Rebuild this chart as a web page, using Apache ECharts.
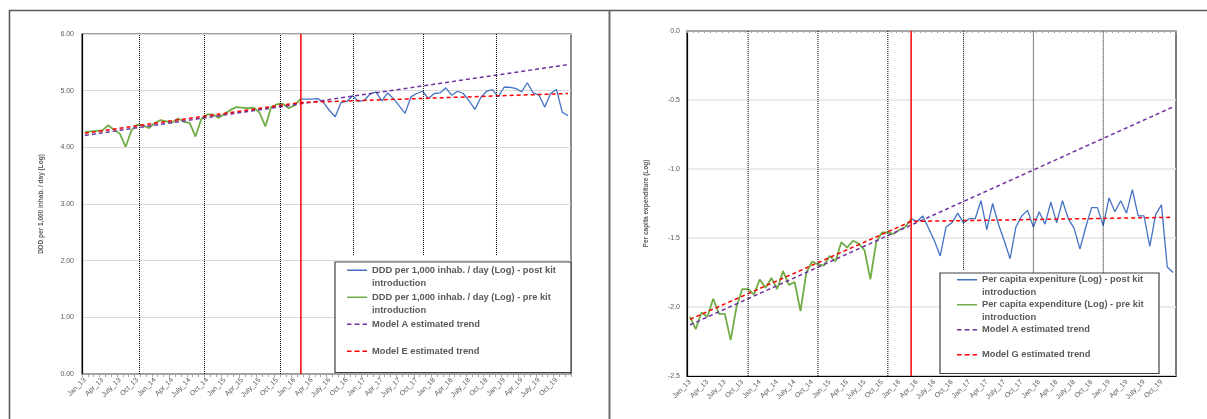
<!DOCTYPE html>
<html>
<head>
<meta charset="utf-8">
<script src="https://cdn.jsdelivr.net/npm/echarts@6/dist/echarts.min.js"></script>
<style>
  html, body { margin: 0; padding: 0; background: #fff; }
  #chart { width: 1207px; height: 419px; }
</style>
</head>
<body>
<div id="chart"></div>
<script>
// ---- Category labels (monthly, Jan 2013 - Dec 2019) ----
const monthNames = ['Jan', 'Feb', 'Mar', 'Apr', 'May', 'June', 'July', 'Aug', 'Sept', 'Oct', 'Nov', 'Dec'];
const yearLabels = ['13', '14', '15', '16', '17', '18', '19'];
const categories = [];
yearLabels.forEach(y => monthNames.forEach(m => categories.push(m + '_' + y)));

// ---- Left panel: DDD per 1,000 inhabitants per day (log) ----
const dddPreStart = 0;    // Jan_13
const dddPre = [4.27, 4.28, 4.29, 4.30, 4.39, 4.31, 4.24, 4.01, 4.30, 4.40, 4.39, 4.34,
                4.43, 4.48, 4.46, 4.44, 4.51, 4.45, 4.43, 4.19, 4.50, 4.58, 4.58, 4.52,
                4.59, 4.66, 4.71, 4.70, 4.69, 4.70, 4.61, 4.37, 4.71, 4.76, 4.77, 4.69,
                4.74, 4.85];
const dddPostStart = 37;  // Feb_16
const dddPost = [4.85, 4.85, 4.85, 4.86, 4.79, 4.65, 4.54, 4.79, 4.81, 4.91, 4.81,
                 4.83, 4.94, 4.98, 4.82, 4.96, 4.86, 4.73, 4.60, 4.89, 4.95, 4.99, 4.86,
                 4.95, 4.96, 5.05, 4.92, 4.99, 4.95, 4.82, 4.67, 4.88, 4.99, 5.02, 4.89,
                 5.06, 5.06, 5.04, 4.98, 5.14, 4.96, 4.92, 4.71, 4.95, 5.02, 4.62, 4.56];
// estimated trends: [month index, value] end points
const dddModelA = [[0, 4.21], [83, 5.46]];
const dddModelE = [[0, 4.25], [37, 4.79], [83, 4.95]];
// reference lines: month position, lower end
const dddDividers = [[9.38, 0], [20.54, 0], [33.6, 0], [46.14, 2.1], [58.16, 2.1], [70.7, 2.1]];
const dddKitIntro = 37.1;

// ---- Right panel: per capita expenditure (log) ----
const expPreStart = 0;    // Jan_13
const expPre = [-2.07, -2.16, -2.04, -2.07, -1.94, -2.05, -2.05, -2.24, -2.00, -1.87, -1.87, -1.91,
                -1.80, -1.86, -1.79, -1.87, -1.74, -1.84, -1.82, -2.03, -1.75, -1.67, -1.69, -1.70,
                -1.63, -1.67, -1.53, -1.57, -1.52, -1.54, -1.59, -1.80, -1.53, -1.46, -1.46, -1.47,
                -1.44, -1.42, -1.36];
const expPostStart = 38;  // Mar_16
const expPost = [-1.36, -1.38, -1.34, -1.43, -1.52, -1.63, -1.42, -1.39, -1.32, -1.39,
                 -1.36, -1.36, -1.23, -1.44, -1.25, -1.40, -1.52, -1.65, -1.42, -1.34, -1.30, -1.42,
                 -1.31, -1.40, -1.24, -1.39, -1.23, -1.36, -1.43, -1.58, -1.42, -1.28, -1.28, -1.41,
                 -1.21, -1.31, -1.23, -1.32, -1.15, -1.34, -1.34, -1.56, -1.33, -1.26, -1.71, -1.75];
const expModelA = [[0, -2.13], [83, -0.55]];
const expModelG = [[0, -2.09], [38, -1.38], [83, -1.35]];
const expDividers = [[9.89, -2.5], [21.57, -2.5], [34.29, -2.5], [46.65, -1.73], [58.93, -1.75], [70.88, -1.78]];
const expKitIntro = 38.4;

// ---- Names ----
const NAME_DDD_POST = 'DDD per 1,000 inhab. / day (Log) - post kit introduction';
const NAME_DDD_PRE = 'DDD per 1,000 inhab. / day (Log) - pre kit introduction';
const NAME_EXP_POST = 'Per capita expeniture (Log) - post kit introduction';
const NAME_EXP_PRE = 'Per capita expenditure (Log) - pre kit introduction';
const NAME_MODEL_A = 'Model A estimated trend';
const NAME_MODEL_E = 'Model E estimated trend';
const NAME_MODEL_G = 'Model G estimated trend';

// ---- Styling ----
const FONT = 'Liberation Sans';
const TEXT_GRAY = '#595959';
const BLUE = '#4472C4';
const GREEN = '#70AD47';
const PURPLE = '#7030A0';
const RED = '#FF0000';
const N = categories.length;

function padSeries(values, start) {
  const out = new Array(N).fill(null);
  values.forEach((v, i) => { out[start + i] = v; });
  return out;
}

function dataLine(name, data, color, width, xi, yi) {
  return {
    name, type: 'line', data, xAxisIndex: xi, yAxisIndex: yi,
    showSymbol: false, symbol: 'none', silent: true,
    itemStyle: { color }, lineStyle: { color, width }
  };
}

function trendLine(name, data, color, xi, yi) {
  return {
    name, type: 'line', data, xAxisIndex: xi, yAxisIndex: yi,
    showSymbol: false, symbol: 'none', silent: true,
    itemStyle: { color }, lineStyle: { color, width: 1.5, type: [4, 3] }
  };
}

function verticalLine(x, lo, hi, xi, yi, style) {
  return {
    type: 'line', xAxisIndex: xi, yAxisIndex: yi, silent: true,
    showSymbol: false, symbol: 'none', z: 3,
    data: [[x, lo], [x, hi]],
    lineStyle: style
  };
}

// legend icons: the stroke sits at the first text line of a two-line item
function solidIcon(h, c) {
  return 'path://M0,' + (c - 0.75) + 'H20V' + (c + 0.75) + 'H0Z M0,0L0.01,0Z M0,' + h + 'L0.01,' + h + 'Z';
}
function dashedIcon(h, c) {
  const a = c - 0.75, b = c + 0.75;
  return 'path://M0,' + a + 'H4.5V' + b + 'H0Z M7.5,' + a + 'H12.5V' + b + 'H7.5Z M15.5,' + a + 'H20V' + b + 'H15.5Z' +
         ' M0,0L0.01,0Z M0,' + h + 'L0.01,' + h + 'Z';
}

function legendFormatter(name) {
  if (name.indexOf(' introduction') >= 0) return name.replace(' introduction', '\nintroduction');
  return name + '\n ';
}

function makeLegend(names, dashed, left, top, lh, textWidth, padding) {
  const h = lh * 2, c = lh / 2;
  return {
    orient: 'vertical', left, top, padding,
    itemGap: 0, itemWidth: 20, itemHeight: h,
    selectedMode: false, symbolKeepAspect: false,
    backgroundColor: '#ffffff', borderColor: '#404040', borderWidth: 1.2, borderRadius: 0,
    itemStyle: { borderWidth: 0 },
    formatter: legendFormatter,
    textStyle: {
      fontFamily: FONT, fontSize: 9.3, fontWeight: 'bold', color: TEXT_GRAY,
      lineHeight: lh, width: textWidth, overflow: 'none'
    },
    data: names.map((n, i) => ({ name: n, icon: dashed[i] ? dashedIcon(h, c) : solidIcon(h, c) }))
  };
}

const xLabel = { interval: 2, rotate: 45, fontSize: 7, color: TEXT_GRAY, margin: 5, fontFamily: FONT };
const yName = { fontSize: 6.5, fontWeight: 'bold', color: TEXT_GRAY, fontFamily: FONT };
const dotted = { color: '#000000', width: 1, type: [1, 1] };
const introStyle = { color: RED, width: 1.5 };

const series = [
  // left panel
  dataLine(NAME_DDD_POST, padSeries(dddPost, dddPostStart), BLUE, 1.3, 0, 0),
  dataLine(NAME_DDD_PRE, padSeries(dddPre, dddPreStart), GREEN, 1.8, 0, 0),
  trendLine(NAME_MODEL_A, dddModelA, PURPLE, 0, 0),
  trendLine(NAME_MODEL_E, dddModelE, RED, 0, 0),
  ...dddDividers.map(d => verticalLine(d[0], d[1], 6, 1, 0, dotted)),
  verticalLine(dddKitIntro, 0, 6, 1, 0, introStyle),
  // right panel
  dataLine(NAME_EXP_POST, padSeries(expPost, expPostStart), BLUE, 1.3, 2, 1),
  dataLine(NAME_EXP_PRE, padSeries(expPre, expPreStart), GREEN, 1.8, 2, 1),
  trendLine(NAME_MODEL_A, expModelA, PURPLE, 2, 1),
  trendLine(NAME_MODEL_G, expModelG, RED, 2, 1),
  ...expDividers.map(d => verticalLine(d[0], d[1], 0, 4, 1, dotted)),
  verticalLine(expKitIntro, -2.5, 0, 4, 1, introStyle)
];

const option = {
  animation: false,
  backgroundColor: '#ffffff',
  textStyle: { fontFamily: FONT },
  graphic: [
    { type: 'polyline', silent: true, z: 0,
      shape: { points: [[9.5, 419], [9.5, 10.5], [1207, 10.5]] },
      style: { stroke: '#595959', lineWidth: 1.6, fill: null } },
    { type: 'line', silent: true, z: 0,
      shape: { x1: 609.5, y1: 10.5, x2: 609.5, y2: 419 },
      style: { stroke: '#6b6b6b', lineWidth: 2 } }
  ],
  grid: [
    { left: 82, top: 34, width: 489, height: 340, show: true, borderColor: '#404040', borderWidth: 1.2, outerBoundsMode: 'none' },
    { left: 687, top: 31, width: 489, height: 345, show: true, borderColor: '#262626', borderWidth: 1.2, outerBoundsMode: 'none' }
  ],
  xAxis: [
    { type: 'category', gridIndex: 0, data: categories, boundaryGap: true, position: 'bottom',
      axisLine: { onZero: false, lineStyle: { color: '#A6A6A6', width: 1 } },
      axisTick: { show: true, interval: 0, length: 3, lineStyle: { color: '#A6A6A6' } },
      axisLabel: xLabel, splitLine: { show: false } },
    { type: 'value', gridIndex: 0, min: -0.5, max: 83.5, show: false },
    { type: 'category', gridIndex: 1, data: categories, boundaryGap: true, position: 'bottom',
      axisLine: { onZero: false, lineStyle: { color: '#000000', width: 1.2 } },
      axisTick: { show: false }, axisLabel: xLabel, splitLine: { show: false } },
    { type: 'value', gridIndex: 1, min: -0.5, max: 83.5, show: false },
    // zero line of the right panel, drawn along the top edge
    { type: 'category', gridIndex: 1, data: categories, boundaryGap: true, position: 'top',
      axisLine: { onZero: false, lineStyle: { color: '#A6A6A6', width: 2 } },
      axisTick: { show: true, inside: true, interval: 0, length: 2, lineStyle: { color: '#A6A6A6' } },
      axisLabel: { show: false }, splitLine: { show: false } }
  ],
  yAxis: [
    { type: 'value', gridIndex: 0, min: 0, max: 6, interval: 1,
      name: 'DDD per 1,000 inhab. / day (Log)', nameLocation: 'middle', nameGap: 37, nameTextStyle: yName,
      axisLine: { show: true, onZero: false, lineStyle: { color: '#000000', width: 1.2 } },
      axisTick: { show: false },
      axisLabel: { formatter: v => v.toFixed(2), fontSize: 7, color: TEXT_GRAY, margin: 8, fontFamily: FONT },
      splitLine: { show: true, lineStyle: { color: '#D9D9D9', width: 1 } } },
    { type: 'value', gridIndex: 1, min: -2.5, max: 0, interval: 0.5,
      name: 'Per capita expenditure (Log)', nameLocation: 'middle', nameGap: 37, nameTextStyle: yName,
      axisLine: { show: true, onZero: false, lineStyle: { color: '#000000', width: 1.2 } },
      axisTick: { show: false },
      axisLabel: { formatter: v => v.toFixed(1), fontSize: 7, color: TEXT_GRAY, margin: 7, fontFamily: FONT },
      splitLine: { show: true, lineStyle: { color: '#E5E5E5', width: 1.5 } } }
  ],
  legend: [
    makeLegend([NAME_DDD_POST, NAME_DDD_PRE, NAME_MODEL_A, NAME_MODEL_E], [false, false, true, true],
               335, 262, 13.5, 194, [1.5, 5, 1, 12]),
    makeLegend([NAME_EXP_POST, NAME_EXP_PRE, NAME_MODEL_A, NAME_MODEL_G], [false, false, true, true],
               940, 273, 12.5, 172, [0.5, 5, 0, 17])
  ],
  series
};

const chart = echarts.init(document.getElementById('chart'), null, { renderer: 'canvas' });
chart.setOption(option);
</script>
</body>
</html>
